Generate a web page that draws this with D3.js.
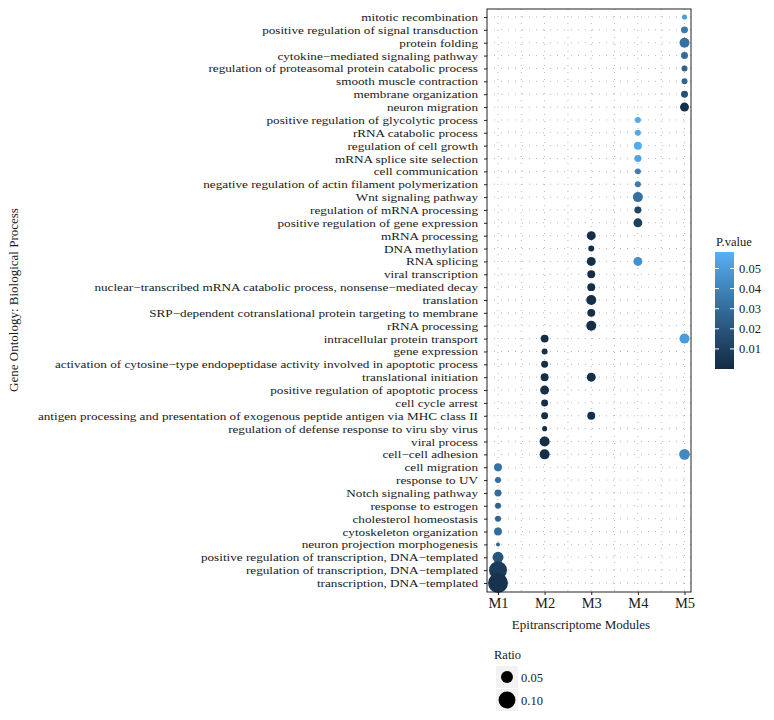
<!DOCTYPE html>
<html><head><meta charset="utf-8">
<script src="https://cdn.jsdelivr.net/npm/d3@7"></script>
<style>body{margin:0;background:#fff}svg{display:block}text{font-family:"Liberation Serif","DejaVu Serif",serif;fill:#1a1a1a}</style>
</head><body><svg id="c" width="774" height="720"></svg>
<script>
const terms = [
"mitotic recombination","positive regulation of signal transduction","protein folding","cytokine\u2212mediated signaling pathway",
"regulation of proteasomal protein catabolic process","smooth muscle contraction","membrane organization","neuron migration",
"positive regulation of glycolytic process","rRNA catabolic process","regulation of cell growth","mRNA splice site selection",
"cell communication","negative regulation of actin filament polymerization","Wnt signaling pathway","regulation of mRNA processing",
"positive regulation of gene expression","mRNA processing","DNA methylation","RNA splicing","viral transcription",
"nuclear\u2212transcribed mRNA catabolic process, nonsense\u2212mediated decay","translation",
"SRP\u2212dependent cotranslational protein targeting to membrane","rRNA processing","intracellular protein transport",
"gene expression","activation of cytosine\u2212type endopeptidase activity involved in apoptotic process","translational initiation",
"positive regulation of apoptotic process","cell cycle arrest",
"antigen processing and presentation of exogenous peptide antigen via MHC class II","regulation of defense response to viru sby virus",
"viral process","cell\u2212cell adhesion","cell migration","response to UV","Notch signaling pathway","response to estrogen",
"cholesterol homeostasis","cytoskeleton organization","neuron projection morphogenesis",
"positive regulation of transcription, DNA\u2212templated","regulation of transcription, DNA\u2212templated","transcription, DNA\u2212templated"];
const modules = ["M1","M2","M3","M4","M5"];
// points: term, module, ratio, p-value
const pointTerm = [
"mitotic recombination","positive regulation of signal transduction","protein folding","cytokine\u2212mediated signaling pathway",
"regulation of proteasomal protein catabolic process","smooth muscle contraction","membrane organization","neuron migration",
"positive regulation of glycolytic process","rRNA catabolic process","regulation of cell growth","mRNA splice site selection",
"cell communication","negative regulation of actin filament polymerization","Wnt signaling pathway","regulation of mRNA processing",
"positive regulation of gene expression","mRNA processing","DNA methylation","RNA splicing","RNA splicing","viral transcription",
"nuclear\u2212transcribed mRNA catabolic process, nonsense\u2212mediated decay","translation",
"SRP\u2212dependent cotranslational protein targeting to membrane","rRNA processing","intracellular protein transport","intracellular protein transport",
"gene expression","activation of cytosine\u2212type endopeptidase activity involved in apoptotic process","translational initiation","translational initiation",
"positive regulation of apoptotic process","cell cycle arrest",
"antigen processing and presentation of exogenous peptide antigen via MHC class II","antigen processing and presentation of exogenous peptide antigen via MHC class II",
"regulation of defense response to viru sby virus","viral process","cell\u2212cell adhesion","cell\u2212cell adhesion",
"cell migration","response to UV","Notch signaling pathway","response to estrogen","cholesterol homeostasis","cytoskeleton organization",
"neuron projection morphogenesis","positive regulation of transcription, DNA\u2212templated","regulation of transcription, DNA\u2212templated","transcription, DNA\u2212templated"];
const pointModule = ["M5","M5","M5","M5","M5","M5","M5","M5",
"M4","M4","M4","M4","M4","M4","M4","M4","M4",
"M3","M3","M3","M4","M3","M3","M3","M3","M3",
"M2","M5","M2","M2","M2","M3","M2","M2","M2","M3","M2","M2","M2","M5",
"M1","M1","M1","M1","M1","M1","M1","M1","M1","M1"];
const pointRatio = [0.009,0.017,0.035,0.017,0.0125,0.0125,0.017,0.028,
0.0125,0.0125,0.022,0.017,0.0125,0.0125,0.035,0.017,0.028,
0.028,0.0125,0.028,0.028,0.022,0.022,0.035,0.022,0.035,
0.022,0.035,0.0125,0.017,0.022,0.028,0.028,0.017,0.017,0.022,0.009,0.035,0.035,0.040,
0.022,0.0125,0.017,0.0125,0.0125,0.022,0.0056,0.042,0.113,0.139];
const pointP = [0.050,0.035,0.032,0.030,0.027,0.027,0.018,0.003,
0.055,0.055,0.056,0.053,0.038,0.036,0.032,0.012,0.010,
0.002,0.002,0.002,0.045,0.002,0.002,0.002,0.002,0.002,
0.002,0.050,0.002,0.002,0.002,0.002,0.002,0.002,0.002,0.002,0.002,0.002,0.002,0.042,
0.033,0.030,0.030,0.027,0.027,0.030,0.025,0.020,0.008,0.004];
const pTicks = [0.01,0.02,0.03,0.04,0.05];
const ratioLegend = [0.05,0.10];

const svg = d3.select("#c");
const L=487, R=691, T=9, B=592;
const x = d3.scalePoint().domain(modules).range([498,684.5]);
const y = d3.scalePoint().domain(terms).range([17,583]);
const r = d3.scaleSqrt().domain([0,0.14]).range([0,10]);
const pDomain=[0,0.0582];
const col = d3.scaleLinear().domain(pDomain).range(["#132B43","#56B1F7"]).interpolate(d3.interpolateLab);

const g = svg.append("g");
// grid
const xs = [];
modules.forEach((m,i)=>{xs.push(x(m)); if(i<modules.length-1) xs.push((x(m)+x(modules[i+1]))/2);});
g.selectAll(".vg").data(xs).join("line").attr("x1",d=>d).attr("x2",d=>d).attr("y1",T).attr("y2",B)
 .attr("stroke","#888").attr("stroke-width",0.6).attr("stroke-dasharray","1,6");
g.selectAll(".hg").data(terms).join("line").attr("x1",L).attr("x2",R).attr("y1",d=>y(d)).attr("y2",d=>y(d))
 .attr("stroke","#888").attr("stroke-width",0.6).attr("stroke-dasharray","1,6");
// points
const pts = pointTerm.map((t,i)=>({t,m:pointModule[i],ratio:pointRatio[i],p:pointP[i]}));
g.selectAll("circle.pt").data(pts).join("circle").attr("class","pt")
 .attr("cx",d=>x(d.m)).attr("cy",d=>y(d.t)).attr("r",d=>r(d.ratio)).attr("fill",d=>col(d.p));
// frame
g.append("rect").attr("x",L).attr("y",T).attr("width",R-L).attr("height",B-T).attr("fill","none").attr("stroke","#222").attr("stroke-width",1);
// axes
const ya = svg.append("g").attr("transform",`translate(${L},0)`).call(d3.axisLeft(y).tickSize(3).tickPadding(6));
ya.select(".domain").remove();
ya.selectAll("text").attr("x",0).attr("transform","translate(-9,0) scale(1.2,1)")
  .style("font-size","11px").style("fill","#1a1a1a");
ya.selectAll("line").attr("stroke","#222");
const xa = svg.append("g").attr("transform",`translate(0,${B})`).call(d3.axisBottom(x).tickSize(3).tickPadding(3));
xa.select(".domain").remove();
xa.selectAll("text").style("font-size","14.5px").style("fill","#1a1a1a");
xa.selectAll("line").attr("stroke","#222");
svg.append("text").attr("x",(L+R)/2-8).attr("y",629).attr("text-anchor","middle").style("font-size","13px").text("Epitranscriptome Modules");
svg.append("text").attr("transform","translate(18,300) rotate(-90)").attr("text-anchor","middle").style("font-size","13px").text("Gene Ontology: Biological Process");

// colour legend
const cbX=715, cbW=19, cbTop=252, cbBot=369;
const cy = d3.scaleLinear().domain(pDomain).range([cbBot,cbTop]);
const defs = svg.append("defs");
const grad = defs.append("linearGradient").attr("id","gr").attr("x1",0).attr("x2",0).attr("y1",1).attr("y2",0);
d3.range(0,1.0001,0.1).forEach(s=>grad.append("stop").attr("offset",s).attr("stop-color",col(pDomain[0]+s*(pDomain[1]-pDomain[0]))));
svg.append("rect").attr("x",cbX).attr("y",cbTop).attr("width",cbW).attr("height",cbBot-cbTop).attr("fill","url(#gr)");
pTicks.forEach(v=>{
  svg.append("line").attr("x1",cbX).attr("x2",cbX+4).attr("y1",cy(v)).attr("y2",cy(v)).attr("stroke","#fff").attr("stroke-width",1);
  svg.append("line").attr("x1",cbX+cbW-4).attr("x2",cbX+cbW).attr("y1",cy(v)).attr("y2",cy(v)).attr("stroke","#fff").attr("stroke-width",1);
  svg.append("text").attr("x",cbX+cbW+5).attr("y",cy(v)+4.5).style("font-size","12.5px").text(v.toFixed(2));
});
svg.append("text").attr("x",716).attr("y",246).style("font-size","12.5px").text("P.value");

// size legend
svg.append("text").attr("x",494).attr("y",659).style("font-size","12.5px").text("Ratio");
ratioLegend.forEach((v,i)=>{
  const yy = 677+i*23;
  svg.append("rect").attr("x",496).attr("y",yy-11).attr("width",22).attr("height",22).attr("fill","#f2f2f2");
  svg.append("circle").attr("cx",507).attr("cy",yy).attr("r",r(v)).attr("fill","#000");
  svg.append("text").attr("x",521).attr("y",yy+4.5).style("font-size","12.5px").text(v.toFixed(2));
});
</script></body></html>
